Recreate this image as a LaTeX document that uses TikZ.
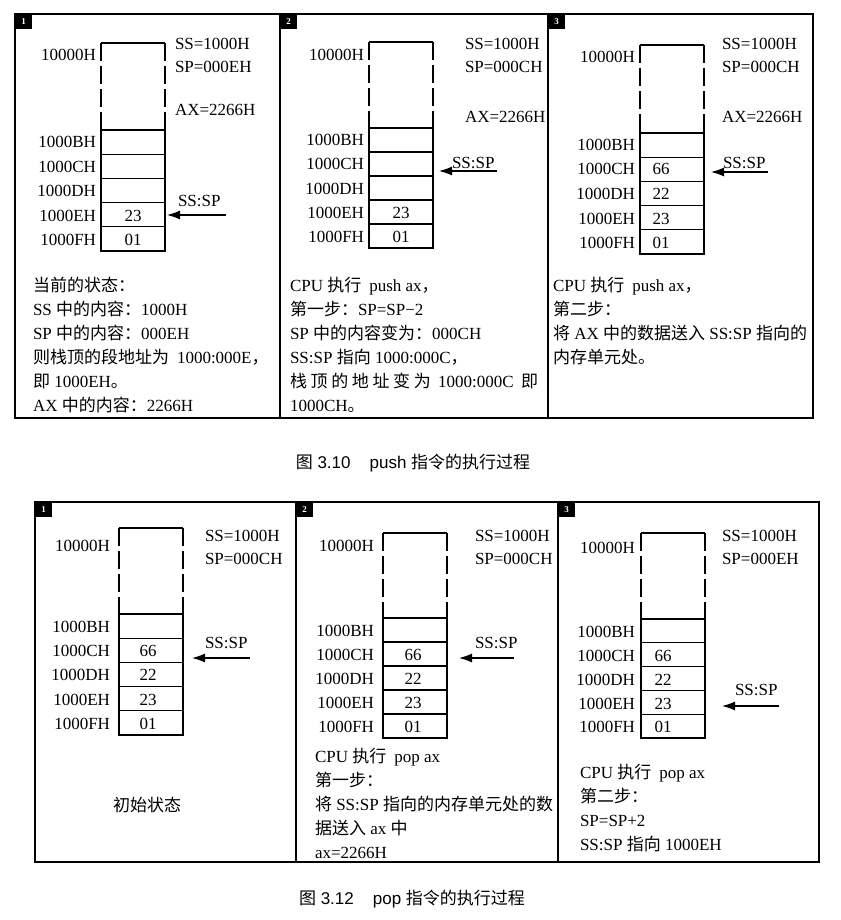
\documentclass[tikz,border=0pt]{standalone}
\usepackage{fontspec}
\setmainfont{Liberation Serif}
\newfontfamily\cjk{Noto Sans CJK SC}
\newfontfamily\capsans{Liberation Sans}
\usetikzlibrary{arrows.meta}
\newcommand\zh[1]{{\cjk #1}}
\newcommand\stk[4]{% #1 xl, #2 ytop, #3 y0, #4 row height
  \draw[stkline] (#1,#2) -- ++(64,0);
  \draw[stkline,dash pattern=on 18pt off 5pt] (#1,#2) -- (#1,#3);
  \draw[stkline,dash pattern=on 18pt off 5pt] (#1+64,#2) -- (#1+64,#3);
  \draw[stkline] (#1,#3) rectangle (#1+64,#3+5*#4);
  \foreach \k in {1,...,4} \draw[stkline] (#1,#3+\k*#4) -- ++(64,0);
}
\begin{document}
\begin{tikzpicture}[x=1pt,y=-1pt,
  every node/.style={inner sep=0pt,outer sep=0pt,font=\fontsize{17}{24}\selectfont},
  frame/.style={line width=1.6pt},
  stkline/.style={line width=1.3pt},
  lab/.style={anchor=base east},
  txt/.style={anchor=base west},
  body/.style={anchor=base west,align=left},
  val/.style={anchor=base},
  ptr/.style={line width=1.2pt,-{Latex[length=13pt,width=9pt]}},
  tag/.style={fill=black,minimum width=17pt,minimum height=15pt,anchor=north west,text=white,font=\fontsize{9}{9}\selectfont\bfseries},
  figcap/.style={anchor=base,font=\fontsize{17}{20}\selectfont\capsans}
]
\useasboundingbox (0,0) rectangle (840,920);
\fill[white] (0,0) rectangle (840,920);

% ================= TOP FIGURE =================
\draw[frame] (15,14) rectangle (813,418);
\draw[frame] (280,14) -- (280,418);
\draw[frame] (548,14) -- (548,418);
\node[tag] (t1) at (15,14) {1};
\node[tag] (t2) at (280,14) {2};
\node[tag] (t3) at (548,14) {3};

% ---- panel 1
\stk{101}{43}{130}{24.2}
\node[lab] (a1l0) at (96,61) {10000H};
\node[lab] (a1l1) at (96,148) {1000BH};
\node[lab] (a1l2) at (96,172) {1000CH};
\node[lab] (a1l3) at (96,196.5) {1000DH};
\node[lab] (a1l4) at (96,221) {1000EH};
\node[lab] (a1l5) at (96,245) {1000FH};
\node[val] (a1v4) at (133,221) {23};
\node[val] (a1v5) at (133,245) {01};
\node[txt] (a1ss) at (175,50) {SS=1000H};
\node[txt] (a1sp) at (175,73) {SP=000EH};
\node[txt] (a1ax) at (175,116) {AX=2266H};
\node[txt] (a1ptr) at (178,206) {SS:SP};
\coordinate (a1s) at (226,215);
\coordinate (a1e) at (167,215);
\draw[ptr] (a1s) -- (a1e);
% body anchored at the baseline of its last line
\node[body] (a1b) at (33,411) {\zh{当前的状态：}\\
SS \zh{中的内容：}1000H\\
SP \zh{中的内容：}000EH\\
\zh{则栈顶的段地址为}\hspace{8pt}1000:000E\zh{，}\\
\zh{即} 1000EH\zh{。}\\
AX \zh{中的内容：}2266H};

% ---- panel 2
\stk{369}{42}{128}{24}
\node[lab] (a2l0) at (364,61) {10000H};
\node[lab] (a2l1) at (364,146) {1000BH};
\node[lab] (a2l2) at (364,170) {1000CH};
\node[lab] (a2l3) at (364,194) {1000DH};
\node[lab] (a2l4) at (364,218) {1000EH};
\node[lab] (a2l5) at (364,242) {1000FH};
\node[val] (a2v4) at (401,218) {23};
\node[val] (a2v5) at (401,242) {01};
\node[txt] (a2ss) at (465,50) {SS=1000H};
\node[txt] (a2sp) at (465,73) {SP=000CH};
\node[txt] (a2ax) at (465,123) {AX=2266H};
\node[txt] (a2ptr) at (452,168) {SS:SP};
\coordinate (a2s) at (497,171);
\coordinate (a2e) at (439,171);
\draw[ptr] (a2s) -- (a2e);
\node[body] (a2b) at (290,411) {CPU \zh{执行}\hspace{8pt}push ax\zh{，}\\
\zh{第一步：}SP=SP−2\\
SP \zh{中的内容变为：}000CH\\
SS:SP \zh{指向} 1000:000C\zh{，}\\
\makebox[248pt][l]{\zh{栈}\hfill\zh{顶}\hfill\zh{的}\hfill\zh{地}\hfill\zh{址}\hfill\zh{变}\hfill\zh{为}\hfill\hfill 1000:000C\hfill\hfill\zh{即}}\\
1000CH\zh{。}};

% ---- panel 3
\stk{640}{45}{133}{24.2}
\node[lab] (a3l0) at (635,63) {10000H};
\node[lab] (a3l1) at (635,151) {1000BH};
\node[lab] (a3l2) at (635,175) {1000CH};
\node[lab] (a3l3) at (635,200) {1000DH};
\node[lab] (a3l4) at (635,224) {1000EH};
\node[lab] (a3l5) at (635,248) {1000FH};
\node[val] (a3v2) at (661,175) {66};
\node[val] (a3v3) at (661,200) {22};
\node[val] (a3v4) at (661,224) {23};
\node[val] (a3v5) at (661,248) {01};
\node[txt] (a3ss) at (722,50) {SS=1000H};
\node[txt] (a3sp) at (722,73) {SP=000CH};
\node[txt] (a3ax) at (722,123) {AX=2266H};
\node[txt] (a3ptr) at (723,168) {SS:SP};
\coordinate (a3s) at (768,172);
\coordinate (a3e) at (711,172);
\draw[ptr] (a3s) -- (a3e);
\node[body] (a3b) at (553,363) {CPU \zh{执行}\hspace{8pt}push ax\zh{，}\\
\zh{第二步：}\\
\zh{将} AX \zh{中的数据送入} SS:SP \zh{指向的}\\
\zh{内存单元处。}};

\node[figcap] (cap1) at (413,468) {\zh{图} 3.10\hspace{19pt}push \zh{指令的执行过程}};

% ================= BOTTOM FIGURE =================
\draw[frame] (35,502) rectangle (819,862);
\draw[frame] (296,502) -- (296,862);
\draw[frame] (558,502) -- (558,862);
\node[tag] (u1) at (35,502) {1};
\node[tag] (u2) at (296,502) {2};
\node[tag] (u3) at (558,502) {3};

% ---- panel 1
\stk{119}{528}{614}{24.2}
\node[lab] (b1l0) at (110,551) {10000H};
\node[lab] (b1l1) at (110,632) {1000BH};
\node[lab] (b1l2) at (110,656) {1000CH};
\node[lab] (b1l3) at (110,680) {1000DH};
\node[lab] (b1l4) at (110,705) {1000EH};
\node[lab] (b1l5) at (110,729) {1000FH};
\node[val] (b1v2) at (148,656) {66};
\node[val] (b1v3) at (148,680) {22};
\node[val] (b1v4) at (148,705) {23};
\node[val] (b1v5) at (148,729) {01};
\node[txt] (b1ss) at (205,541) {SS=1000H};
\node[txt] (b1sp) at (205,564) {SP=000CH};
\node[txt] (b1ptr) at (205,648) {SS:SP};
\coordinate (b1s) at (250,658);
\coordinate (b1e) at (192,658);
\draw[ptr] (b1s) -- (b1e);
\node[val] (b1b) at (147,811) {\zh{初始状态}};

% ---- panel 2
\stk{383}{533}{618}{24}
\node[lab] (b2l0) at (374,551) {10000H};
\node[lab] (b2l1) at (374,636) {1000BH};
\node[lab] (b2l2) at (374,660) {1000CH};
\node[lab] (b2l3) at (374,684) {1000DH};
\node[lab] (b2l4) at (374,708) {1000EH};
\node[lab] (b2l5) at (374,732) {1000FH};
\node[val] (b2v2) at (413,660) {66};
\node[val] (b2v3) at (413,684) {22};
\node[val] (b2v4) at (413,708) {23};
\node[val] (b2v5) at (413,732) {01};
\node[txt] (b2ss) at (475,541) {SS=1000H};
\node[txt] (b2sp) at (475,564) {SP=000CH};
\node[txt] (b2ptr) at (475,648) {SS:SP};
\coordinate (b2s) at (514,658);
\coordinate (b2e) at (459,658);
\draw[ptr] (b2s) -- (b2e);
\node[body] (b2b) at (315,858) {CPU \zh{执行}\hspace{8pt}pop ax\\
\zh{第一步：}\\
\zh{将} SS:SP \zh{指向的内存单元处的数}\\
\zh{据送入} ax \zh{中}\\
ax=2266H};

% ---- panel 3
\stk{641}{533}{619}{23.8}
\node[lab] (b3l0) at (635,553) {10000H};
\node[lab] (b3l1) at (635,637) {1000BH};
\node[lab] (b3l2) at (635,661) {1000CH};
\node[lab] (b3l3) at (635,685) {1000DH};
\node[lab] (b3l4) at (635,709) {1000EH};
\node[lab] (b3l5) at (635,732) {1000FH};
\node[val] (b3v2) at (663,661) {66};
\node[val] (b3v3) at (663,685) {22};
\node[val] (b3v4) at (663,709) {23};
\node[val] (b3v5) at (663,732) {01};
\node[txt] (b3ss) at (722,541) {SS=1000H};
\node[txt] (b3sp) at (722,564) {SP=000EH};
\node[txt] (b3ptr) at (735,695) {SS:SP};
\coordinate (b3s) at (779,706);
\coordinate (b3e) at (722,706);
\draw[ptr] (b3s) -- (b3e);
\node[body] (b3b) at (580,850) {CPU \zh{执行}\hspace{8pt}pop ax\\
\zh{第二步：}\\
SP=SP+2\\
SS:SP \zh{指向} 1000EH};

\node[figcap] (cap2) at (412,904) {\zh{图} 3.12\hspace{19pt}pop \zh{指令的执行过程}};
\end{tikzpicture}
\end{document}
